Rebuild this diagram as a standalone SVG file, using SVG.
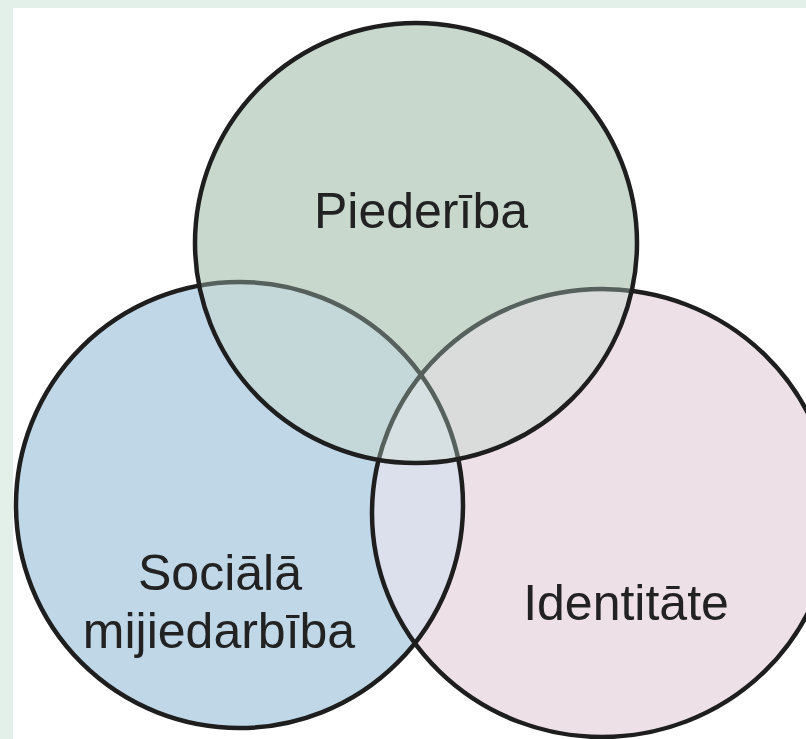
<svg xmlns="http://www.w3.org/2000/svg" width="806" height="739" viewBox="0 0 806 739">
<style>
.lbl{font-family:"Liberation Sans",Arial,sans-serif;font-size:50px;fill:#222;text-anchor:middle}
.edge{fill:none;stroke:#1e1e1e;stroke-width:4.5}
.edgeIn{fill:none;stroke:#56605c;stroke-width:4.5}
</style>
<defs>
<ellipse id="cT" cx="416" cy="243" rx="221" ry="220"/>
<ellipse id="cL" cx="239.5" cy="505" rx="223.5" ry="223"/>
<ellipse id="cR" cx="602" cy="513" rx="230" ry="224"/>
<clipPath id="clipT"><use href="#cT"/></clipPath>
<clipPath id="clipL"><use href="#cL"/></clipPath>
<clipPath id="clipR"><use href="#cR"/></clipPath>
<mask id="outT"><rect width="806" height="739" fill="#fff"/><use href="#cT" fill="#000"/></mask>
</defs>
<rect width="806" height="739" fill="#ffffff"/>
<rect width="806" height="8" fill="#e3efe9"/>
<rect width="13" height="739" fill="#e3efe9"/>
<g id="fills">
<use href="#cL" fill="#bfd7e7"/>
<use href="#cR" fill="#ede1e7"/>
<use href="#cT" fill="#c9d8cd"/>
<g clip-path="url(#clipL)"><use href="#cR" fill="#dcdfec"/></g>
<g clip-path="url(#clipT)"><use href="#cL" fill="#c4d8da"/><use href="#cR" fill="#d9dcda"/></g>
<g clip-path="url(#clipT)"><g clip-path="url(#clipL)"><use href="#cR" fill="#d6e0e2"/></g></g>
</g>
<g id="connectors">
<g mask="url(#outT)"><use href="#cL" class="edge"/><use href="#cR" class="edge"/></g>
<g clip-path="url(#clipT)"><use href="#cL" class="edgeIn"/><use href="#cR" class="edgeIn"/></g>
<use href="#cT" class="edge"/>
</g>
<g id="node-piederiba"><text class="lbl" x="421" y="228">Piederība</text></g>
<g id="node-sociala"><text class="lbl" x="220" y="590">Sociālā</text><text class="lbl" x="219" y="648">mijiedarbība</text></g>
<g id="node-identitate"><text class="lbl" x="626" y="620">Identitāte</text></g>
</svg>
